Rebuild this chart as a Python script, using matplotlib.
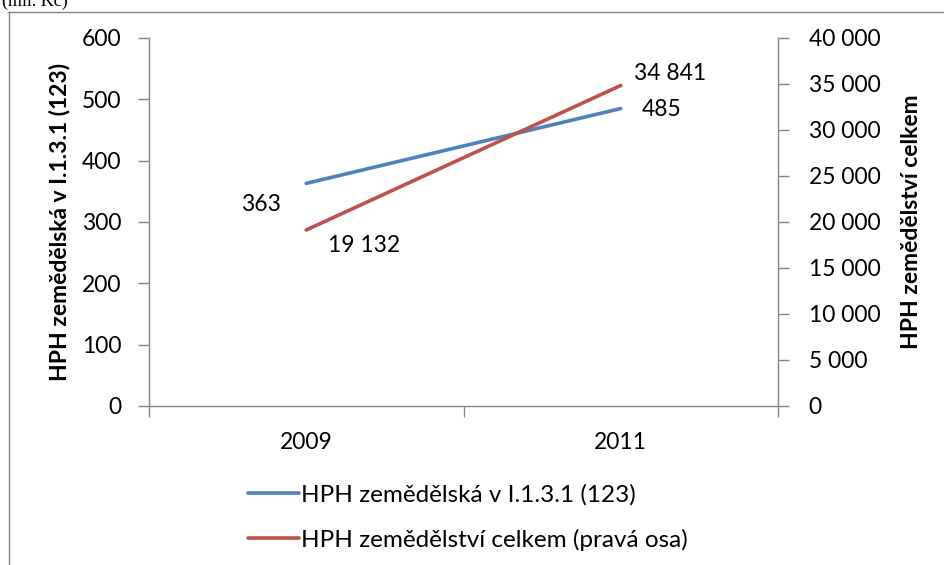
import matplotlib.pyplot as plt
from matplotlib.lines import Line2D

plt.rcParams['font.family'] = ['Lato', 'DejaVu Sans']

years = ['2009', '2011']
hph_123 = [363, 485]
hph_total = [19132, 34841]
labels_123 = ['363', '485']
labels_total = ['19 132', '34 841']

blue = '#4F81BD'
red = '#C0504D'
grey = '#868686'
fs = 16.5

fig = plt.figure(figsize=(9.44, 5.65), dpi=100)
ax = fig.add_axes([149 / 944, 1 - 406 / 565, (778 - 149) / 944, (406 - 38) / 565])
ax2 = ax.twinx()

x = list(range(len(years)))
l1, = ax.plot(x, hph_123, color=blue, lw=2.6, solid_capstyle='round')
l2, = ax2.plot(x, hph_total, color=red, lw=2.6, solid_capstyle='round')

ax.set_xlim(-0.5, len(years) - 0.5)
ax.set_ylim(0, 600)
ax2.set_ylim(0, 40000)
ax.set_yticks(range(0, 601, 100))
ax2.set_yticks(range(0, 40001, 5000))
ax2.set_yticklabels([f'{v:,}'.replace(',', ' ') for v in range(0, 40001, 5000)])

ax.set_xticks(x)
ax.set_xticklabels(years)
ax.set_xticks([-0.5, 0.5, 1.5], minor=True)
ax.tick_params(axis='x', which='major', length=0, pad=19, labelsize=fs)
ax.tick_params(axis='x', which='minor', length=8, color=grey, width=1)
ax.tick_params(axis='y', length=8, color=grey, width=1, pad=12, labelsize=fs)
ax2.tick_params(axis='y', length=8, color=grey, width=1, pad=14, labelsize=fs)

for a in (ax, ax2):
    for s in a.spines.values():
        s.set_visible(False)
ax.spines['left'].set_visible(True)
ax.spines['bottom'].set_visible(True)
ax2.spines['right'].set_visible(True)
for s in (ax.spines['left'], ax.spines['bottom'], ax2.spines['right']):
    s.set_color(grey)
    s.set_linewidth(1)

ax.set_ylabel('HPH zemědělská v I.1.3.1 (123)', fontsize=fs, fontweight='bold', labelpad=8)
ax2.set_ylabel('HPH zemědělství celkem', fontsize=fs, fontweight='bold', labelpad=15)

# data labels
ax.annotate(labels_123[0], (x[0], hph_123[0]), xytext=(-18, -15.5), textcoords='offset points',
            ha='right', va='center', fontsize=fs)
ax.annotate(labels_123[1], (x[1], hph_123[1]), xytext=(15, -1), textcoords='offset points',
            ha='left', va='center', fontsize=fs)
ax2.annotate(labels_total[0], (x[0], hph_total[0]), xytext=(16, -11), textcoords='offset points',
             ha='left', va='center', fontsize=fs)
ax2.annotate(labels_total[1], (x[1], hph_total[1]), xytext=(9.4, 8.8), textcoords='offset points',
             ha='left', va='center', fontsize=fs)

fig.legend([l1, l2], ['HPH zemědělská v I.1.3.1 (123)', 'HPH zemědělství celkem (pravá osa)'],
           loc='upper left', bbox_to_anchor=(226 / 944, 1 - 462 / 565), frameon=False,
           fontsize=17.5, handlelength=2.1, handletextpad=0.1, labelspacing=0.95)

# outer chart frame
fig.add_artist(Line2D([8.5 / 944, 8.5 / 944], [0, 1 - 12 / 565], color=grey, lw=1))
fig.add_artist(Line2D([8 / 944, 1], [1 - 12 / 565, 1 - 12 / 565], color=grey, lw=1))
fig.text(2 / 944, 1 - 6 / 565, '(mil. Kč)', family='Liberation Serif', fontsize=13,
         ha='left', va='baseline')

fig.savefig('out.png', dpi=100)
